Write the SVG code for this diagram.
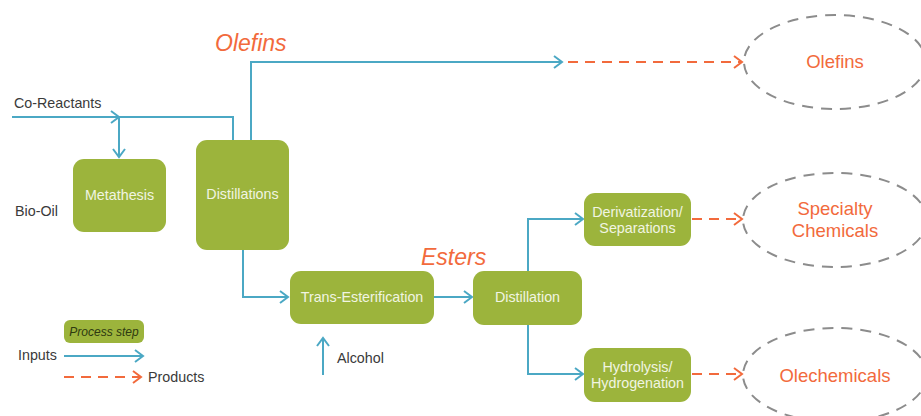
<svg xmlns="http://www.w3.org/2000/svg" width="921" height="416" viewBox="0 0 921 416">
<defs>
<style>
.box{fill:#9CB43C;}
.bt{font-family:"Liberation Sans",Arial,sans-serif;font-size:14.3px;fill:#F1F5E2;text-anchor:middle;}
.lbl{font-family:"Liberation Sans",Arial,sans-serif;font-size:14.3px;fill:#3A3A3A;}
.in{fill:none;stroke:#4BA8C4;stroke-width:2;}
.out{fill:none;stroke:#F26A3C;stroke-width:2;stroke-dasharray:10,7;}
.ell{fill:none;stroke:#8C8C8C;stroke-width:2;stroke-dasharray:11,8;}
.prod{font-family:"Liberation Sans",Arial,sans-serif;font-size:18.5px;fill:#F26A3C;text-anchor:middle;}
.big{font-family:"Liberation Sans",Arial,sans-serif;font-size:23px;font-style:italic;fill:#F26A3C;}
</style>
<marker id="ab" markerWidth="14" markerHeight="14" refX="11" refY="7" orient="auto" markerUnits="userSpaceOnUse">
<path d="M3,1 L11,7 L3,13" fill="none" stroke="#4BA8C4" stroke-width="2"/>
</marker>
<marker id="ao" markerWidth="14" markerHeight="14" refX="11" refY="7" orient="auto" markerUnits="userSpaceOnUse">
<path d="M3,1 L11,7 L3,13" fill="none" stroke="#F26A3C" stroke-width="2"/>
</marker>
</defs>
<rect width="921" height="416" fill="#fff"/>

<g id="connectors">
<path class="in" d="M12,117 H119" marker-end="url(#ab)"/>
<path class="in" d="M117,117 H233 V140"/>
<path class="in" d="M119,117 V157" marker-end="url(#ab)"/>
<path class="in" d="M251,140 V62 H562" marker-end="url(#ab)"/>
<path class="out" d="M568,62 H742" marker-end="url(#ao)"/>
<path class="in" d="M243,250 V297 H288" marker-end="url(#ab)"/>
<path class="in" d="M323,375 V338" marker-end="url(#ab)"/>
<path class="in" d="M434,297 H472" marker-end="url(#ab)"/>
<path class="in" d="M528,271 V219 H583" marker-end="url(#ab)"/>
<path class="in" d="M528,325 V374 H583" marker-end="url(#ab)"/>
<path class="out" d="M692,219 H742" marker-end="url(#ao)"/>
<path class="out" d="M692,374 H742" marker-end="url(#ao)"/>
</g>

<g id="labels">
<text class="lbl" x="14" y="108">Co-Reactants</text>
<text class="lbl" x="15" y="216">Bio-Oil</text>
<text class="lbl" x="337" y="363">Alcohol</text>
<text class="big" x="215" y="51">Olefins</text>
<text class="big" x="421" y="265">Esters</text>
</g>

<g id="metathesis">
<rect class="box" x="73" y="159" width="93" height="73" rx="11"/>
<text class="bt" x="119.5" y="200">Metathesis</text>
</g>
<g id="distillations">
<rect class="box" x="196" y="140" width="93" height="110" rx="11"/>
<text class="bt" x="242.5" y="199">Distillations</text>
</g>
<g id="trans-esterification">
<rect class="box" x="290" y="271" width="144" height="53" rx="11"/>
<text class="bt" x="362" y="302">Trans-Esterification</text>
</g>
<g id="distillation">
<rect class="box" x="473" y="271" width="109" height="54" rx="11"/>
<text class="bt" x="527.5" y="302">Distillation</text>
</g>
<g id="derivatization">
<rect class="box" x="584" y="193" width="107" height="53" rx="11"/>
<text class="bt" x="637.5" y="217">Derivatization/</text>
<text class="bt" x="637.5" y="233">Separations</text>
</g>
<g id="hydrolysis">
<rect class="box" x="584" y="348" width="107" height="54" rx="11"/>
<text class="bt" x="637.5" y="372">Hydrolysis/</text>
<text class="bt" x="637.5" y="388">Hydrogenation</text>
</g>

<g id="olefins-product">
<ellipse class="ell" cx="835" cy="62" rx="91" ry="47"/>
<text class="prod" x="835" y="68">Olefins</text>
</g>
<g id="specialty-chemicals">
<ellipse class="ell" cx="835" cy="220" rx="92" ry="47"/>
<text class="prod" x="835" y="215">Specialty</text>
<text class="prod" x="835" y="237">Chemicals</text>
</g>
<g id="olechemicals">
<ellipse class="ell" cx="835" cy="375" rx="92" ry="47"/>
<text class="prod" x="835" y="382">Olechemicals</text>
</g>

<g id="legend">
<rect class="box" x="64" y="320" width="80" height="23" rx="6"/>
<text x="104" y="336" style="font-family:'Liberation Sans',Arial,sans-serif;font-size:12px;font-style:italic;fill:#2E3A10;text-anchor:middle">Process step</text>
<text class="lbl" x="18" y="360">Inputs</text>
<path class="in" d="M64,356 H143" marker-end="url(#ab)"/>
<path class="out" d="M64,377 H141" marker-end="url(#ao)"/>
<text class="lbl" x="148" y="382">Products</text>
</g>
</svg>
